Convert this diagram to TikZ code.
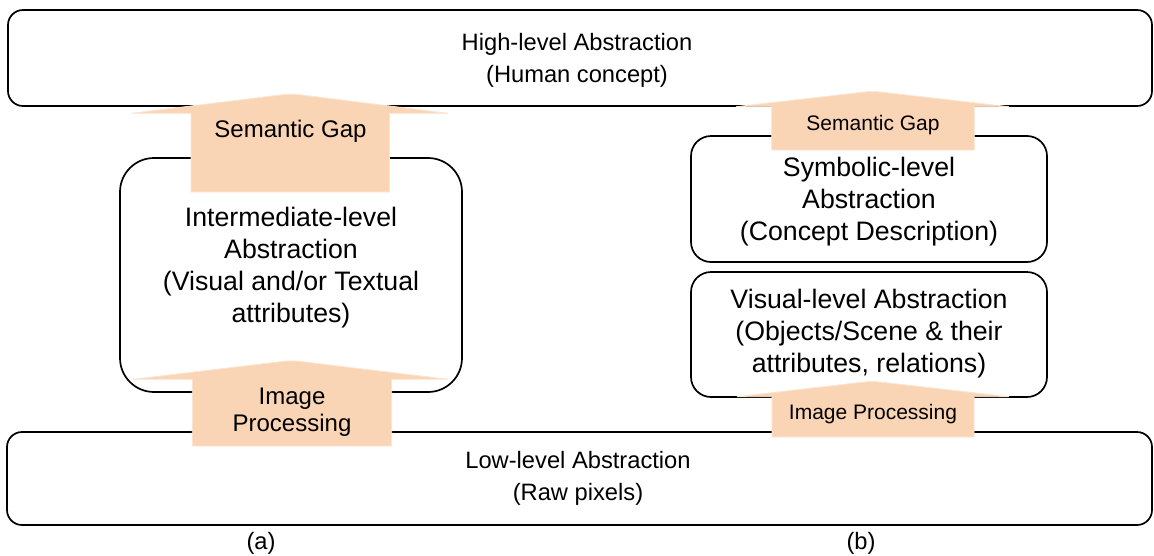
\documentclass[tikz,border=0pt]{standalone}
\usepackage{fontspec}
\setmainfont{Liberation Sans}
\definecolor{peach}{RGB}{250,213,181}
\definecolor{peachedge}{RGB}{253,228,208}
\tikzset{
  box/.style={draw=black, line width=1.7pt, fill=none, inner sep=0pt},
  main/.style={align=center, font=\fontsize{26.7}{32}\selectfont, inner sep=0pt, anchor=base},
  wide/.style={align=center, font=\fontsize{23.7}{32}\selectfont, inner sep=0pt, anchor=base},
  big/.style={align=center, font=\fontsize{24}{26.5}\selectfont, inner sep=0pt},
  small/.style={align=center, font=\fontsize{21}{24}\selectfont, inner sep=0pt},
  barrow/.style={fill=peach, draw=peachedge, line width=0.8pt},
}
\begin{document}
\begin{tikzpicture}[x=1pt,y=-1pt]
\useasboundingbox (0,0) rectangle (1154,555);
% boxes
\node[box, rounded corners=15pt, minimum width=1144pt, minimum height=96pt] (high) at (580,58) {};
\node[wide] (hightxt) at (577,82) {High-level Abstraction\\(Human concept)};
\node[box, rounded corners=15pt, minimum width=1145pt, minimum height=93pt] (low) at (579.5,478.5) {};
\node[wide] (lowtxt) at (578,500.5) {Low-level Abstraction\\(Raw pixels)};
\node[box, rounded corners=34pt, minimum width=342pt, minimum height=234pt] (inter) at (291,275) {};
\node[main] (intertxt) at (291,322) {Intermediate-level\\Abstraction\\(Visual and/or Textual\\attributes)};
\node[box, rounded corners=20pt, minimum width=356pt, minimum height=126pt] (symb) at (869,199) {};
\node[main] (symbtxt) at (869,240.7) {Symbolic-level\\Abstraction\\(Concept Description)};
\node[box, rounded corners=20pt, minimum width=356pt, minimum height=125pt] (vis) at (869,334.5) {};
\node[main] (vistxt) at (869,372) {Visual-level Abstraction\\(Objects/Scene \& their\\attributes, relations)};
% block arrows
\draw[barrow] (191,192) -- (191,113.3) -- (131.7,113.3) -- (286,94.3) -- (296,94.3) -- (448,113.3) -- (389.5,113.3) -- (389.5,192) -- cycle;
\node[big] (gapa) at (290.5,131) {Semantic Gap};
\draw[barrow] (192.3,446) -- (192.3,379.3) -- (133,379.3) -- (286.5,361) -- (296.5,361) -- (448,379.3) -- (391.7,379.3) -- (391.7,446) -- cycle;
\node[big] (ipa) at (292,412) {Image\\Processing};
\draw[barrow] (771.7,150) -- (771.7,106.7) -- (736,106.7) -- (867.5,91.7) -- (877.5,91.7) -- (1009,106.7) -- (974.3,106.7) -- (974.3,150) -- cycle;
\node[small] (gapb) at (873,125) {Semantic Gap};
\draw[barrow] (772,437) -- (772,396.7) -- (737,396.7) -- (867,381.7) -- (877,381.7) -- (1009,396.7) -- (974,396.7) -- (974,437) -- cycle;
\node[small] (ipb) at (873,414) {Image Processing};
% captions
\node[wide] (capa) at (261,549) {(a)};
\node[wide] (capb) at (861,549) {(b)};
\end{tikzpicture}
\end{document}
